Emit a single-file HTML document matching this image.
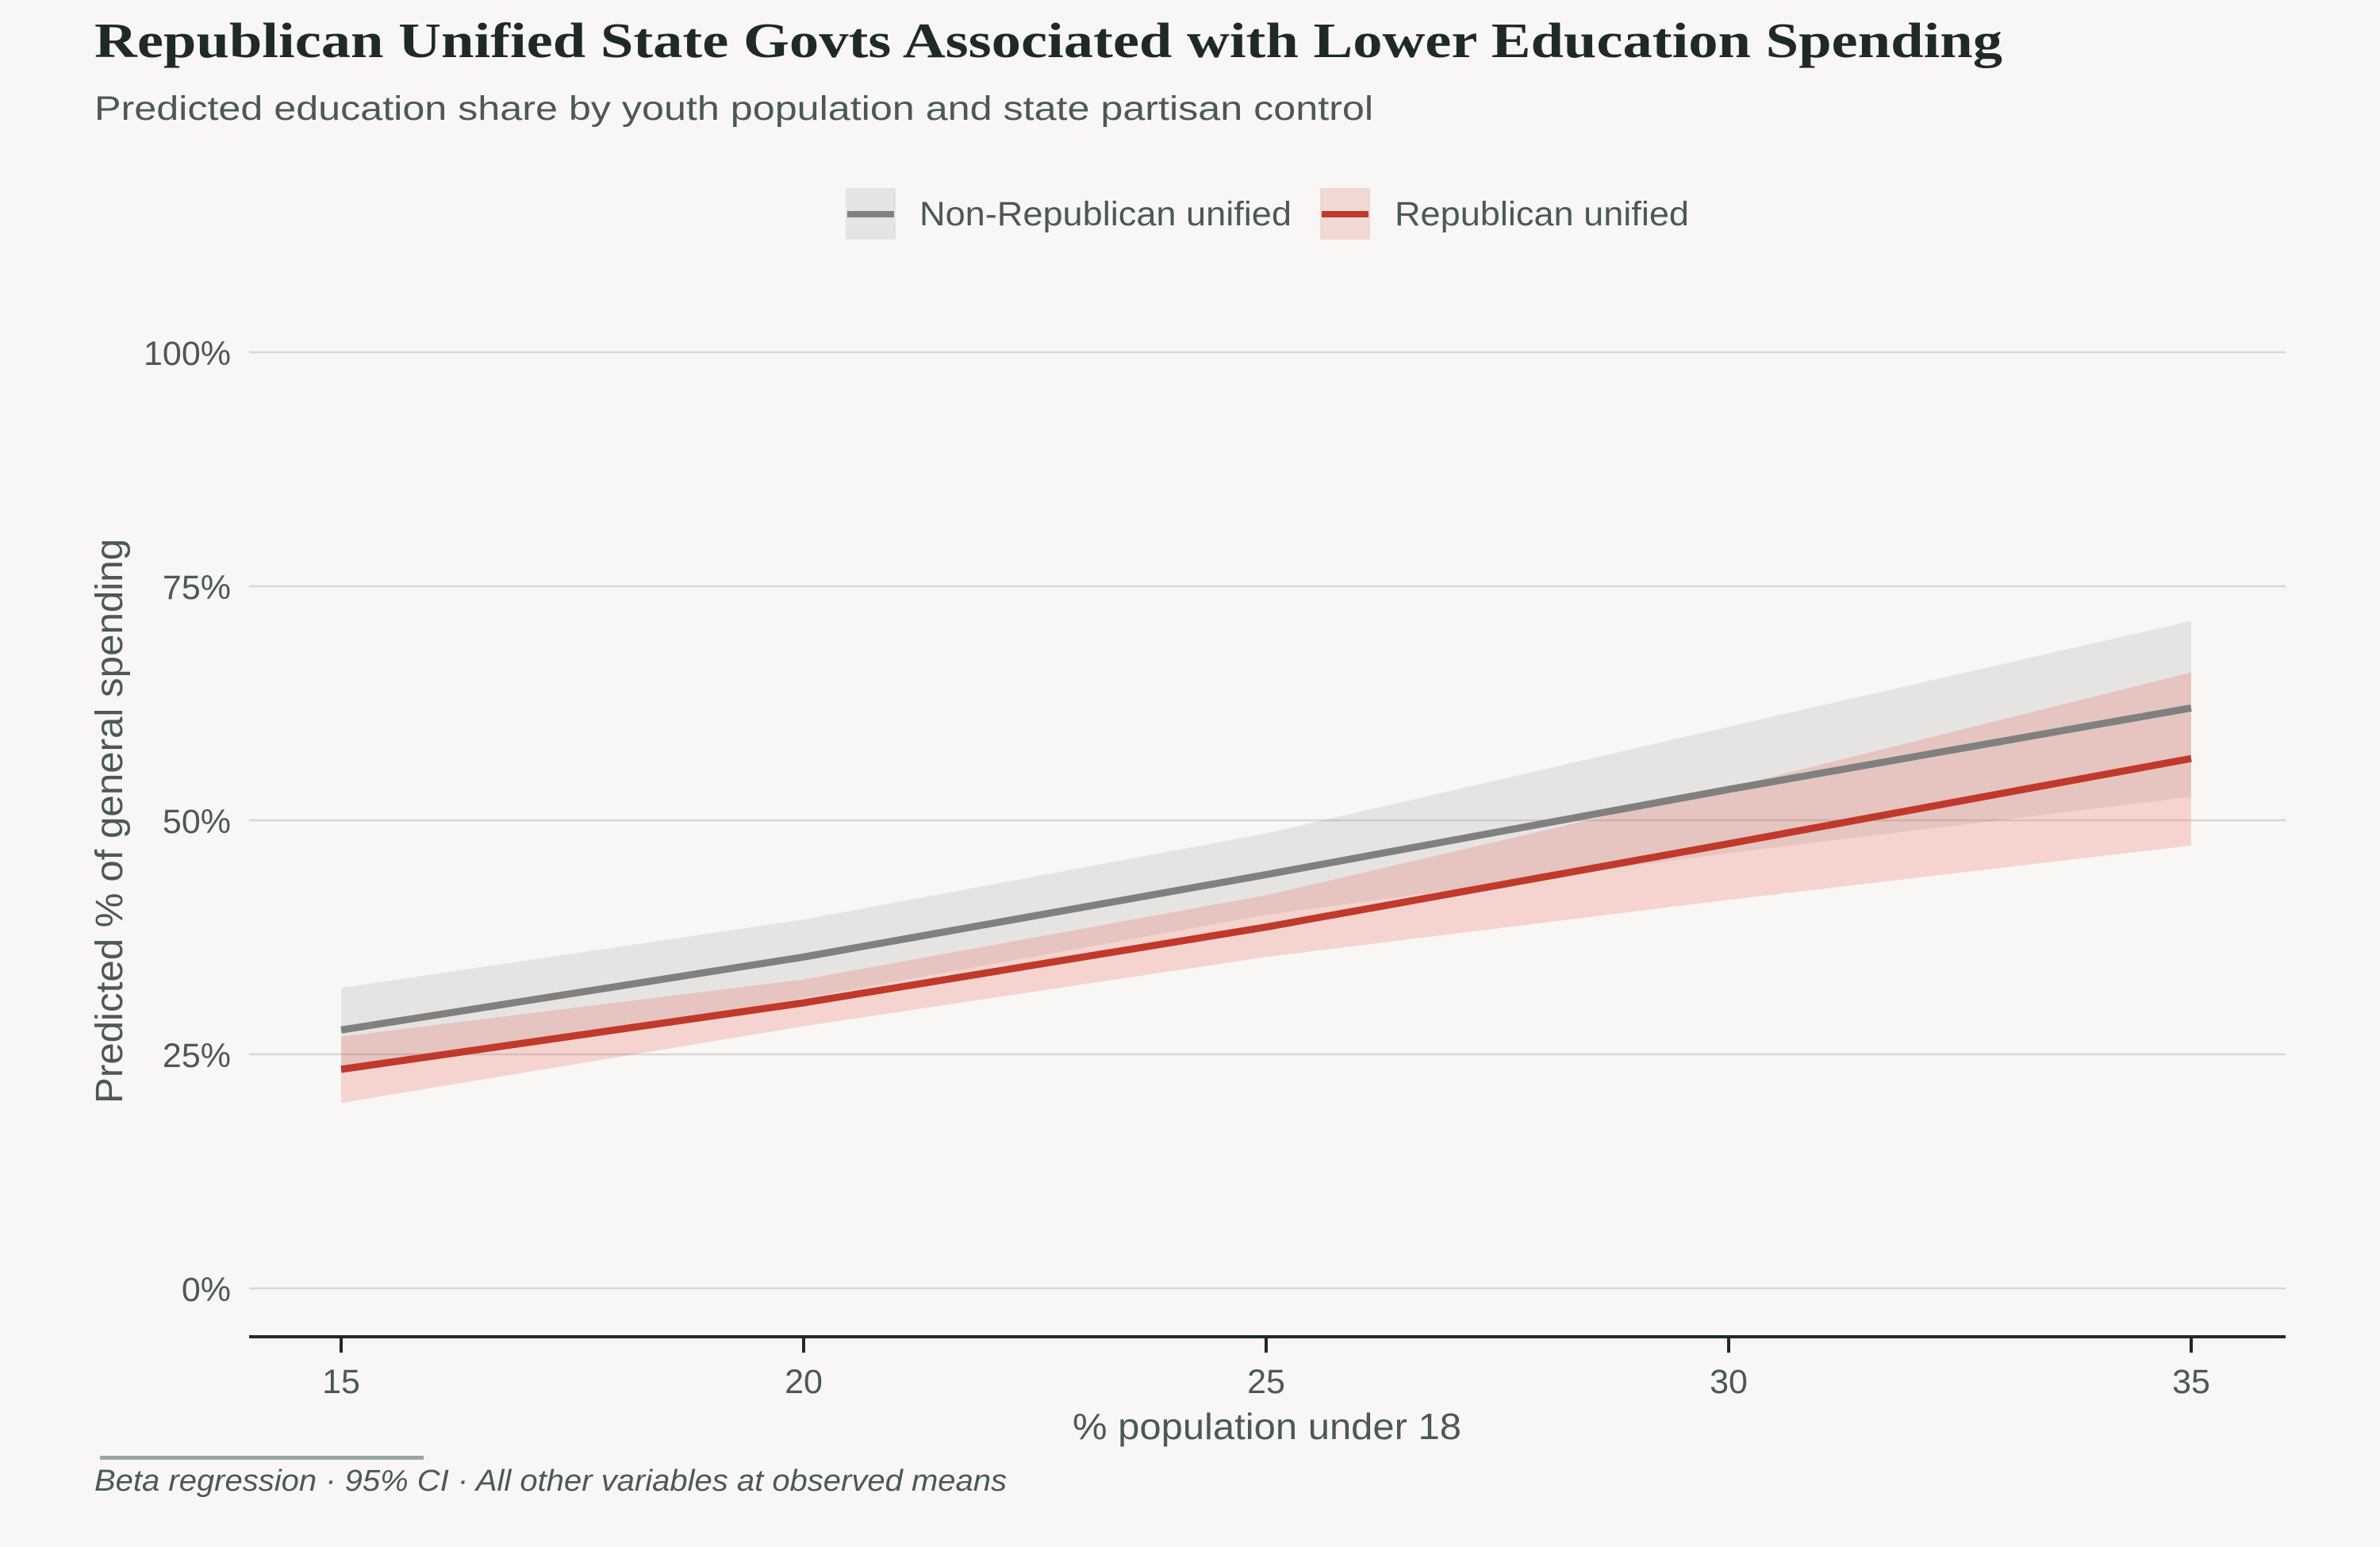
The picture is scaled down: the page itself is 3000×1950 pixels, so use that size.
<!DOCTYPE html>
<html><head><meta charset="utf-8"><style>
html,body{margin:0;padding:0;background:#f9f7f5;}
svg{display:block;}
text{font-family:"Liberation Sans",sans-serif;}
</style></head><body>
<svg id="chart" width="3000" height="1950" viewBox="0 0 3000 1950">
<rect width="3000" height="1950" fill="#f9f7f5"/>
<text x="119" y="72" font-family="Liberation Serif" font-weight="bold" font-size="62" fill="#1e2b25" textLength="2405" lengthAdjust="spacingAndGlyphs" style="font-family:'Liberation Serif',serif">Republican Unified State Govts Associated with Lower Education Spending</text>
<text x="119" y="151" font-size="43" fill="#4a5a52" textLength="1612" lengthAdjust="spacingAndGlyphs">Predicted education share by youth population and state partisan control</text>
<g>
<g>
<rect x="1066" y="237" width="63" height="65" fill="#e6e4e2"/>
<line x1="1068" y1="270" x2="1127" y2="270" stroke="#808080" stroke-width="8"/>
<text x="1159" y="284" font-size="43" fill="#4a5a52" textLength="469" lengthAdjust="spacingAndGlyphs">Non-Republican unified</text>
</g>
<g>
<rect x="1664" y="237" width="63" height="65" fill="#f2d8d4"/>
<line x1="1666" y1="270" x2="1725" y2="270" stroke="#c0392b" stroke-width="8"/>
<text x="1758" y="284" font-size="43" fill="#4a5a52" textLength="371" lengthAdjust="spacingAndGlyphs">Republican unified</text>
</g>
</g>
<g id="grid"></g>
<g id="yticks"></g>
<g id="bands"></g>
<g id="lines"></g>
<line x1="314" y1="1685" x2="2881" y2="1685" stroke="#1e2b25" stroke-width="4"/>
<g id="xticks"></g>
<text x="1597" y="1814" font-size="46" fill="#4a5a52" text-anchor="middle" textLength="490" lengthAdjust="spacingAndGlyphs">% population under 18</text>
<text transform="translate(154,1035) rotate(-90)" font-size="48" fill="#4a5a52" text-anchor="middle" textLength="712" lengthAdjust="spacingAndGlyphs">Predicted % of general spending</text>
<rect x="126" y="1835" width="408" height="5" fill="#98a89e"/>
<text x="119" y="1879" font-size="38" font-style="italic" fill="#4a5a52" textLength="1150" lengthAdjust="spacingAndGlyphs">Beta regression · 95% CI · All other variables at observed means</text>
</svg>
<script>
const xValues = [15, 20, 25, 30, 35];
const nonRepMean = [27.6, 35.4, 44.2, 53.3, 62.0];
const nonRepLower = [23.0, 31.0, 39.9, 46.5, 52.5];
const nonRepUpper = [32.1, 39.4, 48.6, 60.0, 71.3];
const repMean = [23.4, 30.5, 38.6, 47.5, 56.6];
const repLower = [19.8, 28.0, 35.4, 41.5, 47.3];
const repUpper = [26.9, 33.0, 42.0, 53.5, 65.8];
const yTicks = [0, 25, 50, 75, 100];
const yTickLabels = ["0%", "25%", "50%", "75%", "100%"];
const xTicks = [15, 20, 25, 30, 35];
const xTickLabels = ["15", "20", "25", "30", "35"];

const NS = "http://www.w3.org/2000/svg";
function xs(v){ return 430 + (v - 15) * (2762 - 430) / 20; }
function ys(v){ return 1624 - v * (1624 - 444) / 100; }
function mk(tag, attrs, parent){
  const e = document.createElementNS(NS, tag);
  for (const k in attrs) e.setAttribute(k, attrs[k]);
  parent.appendChild(e); return e;
}
const grid = document.getElementById('grid');
const yt = document.getElementById('yticks');
yTicks.forEach((t, i) => {
  const l = mk('line', {x1:314, x2:2881, y1:ys(t), y2:ys(t), stroke:'#d9d7d5', 'stroke-width':2.5}, grid);
  
  
  const tx = mk('text', {x:291, y:ys(t)+16, 'font-size':43, fill:'#4a5a52', 'text-anchor':'end'}, yt);
  tx.textContent = yTickLabels[i];
  
  
});
const xt = document.getElementById('xticks');
xTicks.forEach((t, i) => {
  const l = mk('line', {x1:xs(t), x2:xs(t), y1:1685, y2:1705, stroke:'#1e2b25', 'stroke-width':4}, xt);
  
  
  const tx = mk('text', {x:xs(t), y:1756, 'font-size':43, fill:'#4a5a52', 'text-anchor':'middle'}, xt);
  tx.textContent = xTickLabels[i];
  
  
});
function band(lo, hi, fill, name){
  let d = xValues.map((x, i) => (i ? 'L' : 'M') + xs(x) + ',' + ys(hi[i])).join(' ');
  for (let i = xValues.length - 1; i >= 0; i--) d += ' L' + xs(xValues[i]) + ',' + ys(lo[i]);
  const p = mk('path', {d: d + ' Z', fill: fill}, document.getElementById('bands'));
  
  
}
function line(m, color, name){
  const d = xValues.map((x, i) => (i ? 'L' : 'M') + xs(x) + ',' + ys(m[i])).join(' ');
  const p = mk('path', {d: d, fill:'none', stroke:color, 'stroke-width':9, 'stroke-linejoin':'round'}, document.getElementById('lines'));
  
  
}
band(nonRepLower, nonRepUpper, 'rgba(128,128,128,0.16)', 'non-republican-ci-band');
band(repLower, repUpper, 'rgba(231,76,60,0.2)', 'republican-ci-band');
line(nonRepMean, '#808080', 'non-republican-line');
line(repMean, '#c0392b', 'republican-line');
</script>
</body></html>
